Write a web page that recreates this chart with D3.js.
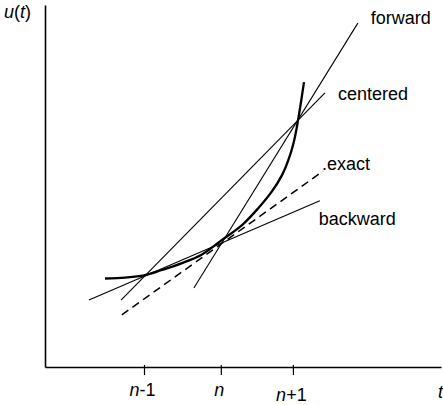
<!DOCTYPE html>
<html>
<head>
<meta charset="utf-8">
<script src="https://cdn.jsdelivr.net/npm/d3@7"></script>
<style>
  html, body { margin: 0; padding: 0; background: #fff; }
  svg { display: block; }
  text { font-family: "Liberation Sans", Arial, Helvetica, sans-serif; font-size: 18px; fill: #000; }
</style>
</head>
<body>
<svg id="chart" width="443" height="405"></svg>
<script>
// ---- data (in plot units, x: 0..100, y: 0..100) ----
const tickValues = [25.0, 44.4, 62.6];
const tickLabels = [["n", "-1"], ["n", ""], ["n", "+1"]];

const curveX = [15.15, 20.2, 25.0, 29.55, 34.6, 39.65, 44.7, 49.75, 53.8, 57.3, 59.85, 61.9, 63.1, 63.9, 64.65, 65.4];
const curveY = [24.45, 24.7, 25.3, 26.8, 28.7, 31.1, 35.1, 39.2, 43.8, 48.5, 53.0, 58.6, 63.5, 68.2, 73.2, 78.7];

const lineNames = ["forward", "centered", "exact", "backward"];
const lineX1 = [37.6, 19.2, 19.4, 11.1];
const lineY1 = [21.8, 18.5, 14.4, 18.5];
const lineX2 = [79.0, 70.7, 70.2, 69.4];
const lineY2 = [95.0, 75.7, 54.1, 45.9];
const lineDashed = [false, false, true, false];

// ---- drawing ----
const svg = d3.select("#chart");
const x = d3.scaleLinear().domain([0, 100]).range([45, 441]);
const y = d3.scaleLinear().domain([0, 100]).range([367, 5]);

// axes
const xAxis = d3.axisBottom(x).tickValues(tickValues).tickSizeInner(8).tickSizeOuter(0).tickFormat("");
const gx = svg.append("g").attr("transform", `translate(0,${y(0)})`).call(xAxis);
gx.select(".domain").attr("stroke", "#000").attr("stroke-width", 1.6);
gx.selectAll(".tick line").attr("stroke", "#000").attr("stroke-width", 1.2).attr("y1", -2);

const yAxis = d3.axisLeft(y).tickValues([]).tickSizeOuter(0);
const gy = svg.append("g").attr("transform", `translate(${x(0)},0)`).call(yAxis);
gy.select(".domain").attr("stroke", "#000").attr("stroke-width", 1.6);

// tick labels
const baseOffsets = [29, 29, 34];
tickValues.forEach((v, i) => {
  const t = svg.append("text")
    .attr("x", x(v) - 1.5)
    .attr("y", y(0) + baseOffsets[i])
    .attr("text-anchor", "middle");
  t.append("tspan").attr("font-style", "italic").text(tickLabels[i][0]);
  if (tickLabels[i][1]) t.append("tspan").text(tickLabels[i][1]);
});

// axis titles
svg.append("text").attr("x", 438).attr("y", 398).attr("font-style", "italic").text("t");
const ut = svg.append("text").attr("x", 4).attr("y", 18);
ut.append("tspan").attr("font-style", "italic").text("u");
ut.append("tspan").text("(");
ut.append("tspan").attr("font-style", "italic").text("t");
ut.append("tspan").text(")");

// straight approximation lines
lineNames.forEach((name, i) => {
  svg.append("line")
    .attr("x1", x(lineX1[i])).attr("y1", y(lineY1[i]))
    .attr("x2", x(lineX2[i])).attr("y2", y(lineY2[i]))
    .attr("stroke", "#000")
    .attr("stroke-width", lineDashed[i] ? 1.5 : 1.1)
    .attr("stroke-dasharray", lineDashed[i] ? "8,5" : null);
});

// curve
const curvePts = curveX.map((v, i) => [v, curveY[i]]);
svg.append("path")
  .datum(curvePts)
  .attr("d", d3.line().x(d => x(d[0])).y(d => y(d[1])).curve(d3.curveCatmullRom.alpha(0.5)))
  .attr("fill", "none")
  .attr("stroke", "#000")
  .attr("stroke-width", 2.3);

// line labels placed next to line ends
const labelDx = [13, 13, -1, -1];
const labelDy = [1, 7, -1, 24];
lineNames.forEach((name, i) => {
  svg.append("text")
    .attr("x", x(lineX2[i]) + labelDx[i])
    .attr("y", y(lineY2[i]) + labelDy[i])
    .text(name === "exact" ? ".exact" : name);
});
</script>
</body>
</html>
